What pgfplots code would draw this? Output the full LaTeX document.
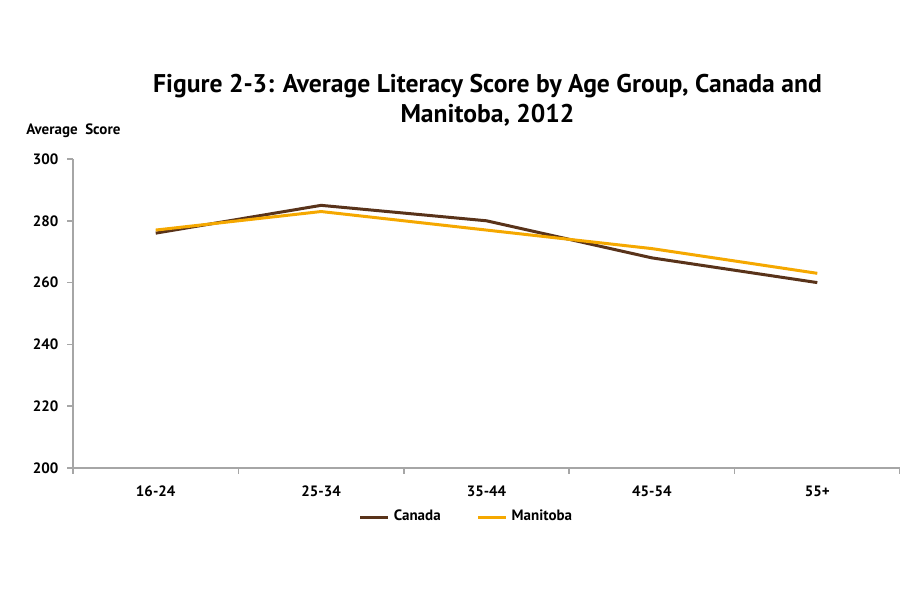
\documentclass[border=0pt]{standalone}
\usepackage{pgfplots}
\pgfplotsset{compat=1.18}
\usepackage{fontspec}
\setmainfont{PT Sans}
\definecolor{canada}{RGB}{89,51,26}
\definecolor{manitoba}{RGB}{245,168,0}
\definecolor{axgray}{RGB}{166,166,166}
\begin{document}
\begin{tikzpicture}
\useasboundingbox[fill=white] (0pt,0pt) rectangle (450pt,300pt);
\node[font=\bfseries\fontsize{12.8}{15}\selectfont, align=center] at (243.75pt,250pt) {Figure 2-3: Average Literacy Score by Age Group, Canada and\\Manitoba, 2012};
\node[anchor=west, font=\bfseries\fontsize{7.5}{9}\selectfont, inner sep=0pt] at (13pt,234.5pt) {Average\ \ Score};
\begin{axis}[
  at={(36.5pt,66pt)}, anchor=south west,
  scale only axis, width=413.5pt, height=154.5pt,
  xmin=-0.5, xmax=4.5, ymin=200, ymax=300,
  ytick={200,220,...,300},
  xtick={-0.5,0.5,...,4.5},
  x tick label as interval,
  xticklabels={16-24,25-34,35-44,45-54,55+},
  axis lines*=left,
  axis line style={draw=axgray, line width=0.75pt},
  tick style={draw=axgray, line width=0.75pt},
  tick align=outside,
  major tick length=2.8pt,
  ticklabel style={font=\bfseries\fontsize{7.5}{9}\selectfont},
  /pgf/number format/assume math mode=true,
  x tick label style={yshift=-2.5pt},
  y tick label style={xshift=-1pt},
  legend columns=2,
  legend style={at={(0.477,-0.159)}, anchor=center, draw=none, fill=none,
    font=\bfseries\fontsize{7.5}{9}\selectfont,
    /tikz/every even column/.append style={column sep=16pt},
    inner sep=0pt},
  legend image code/.code={\draw[#1] (0pt,0pt) -- (14pt,0pt);},
]
\addplot[canada, line width=1.5pt] coordinates {(0,276) (1,285) (2,280) (3,268) (4,260)};
\addlegendentry{Canada}
\addplot[manitoba, line width=1.5pt] coordinates {(0,277) (1,283) (2,277) (3,271) (4,263)};
\addlegendentry{Manitoba}
\end{axis}
\end{tikzpicture}
\end{document}
